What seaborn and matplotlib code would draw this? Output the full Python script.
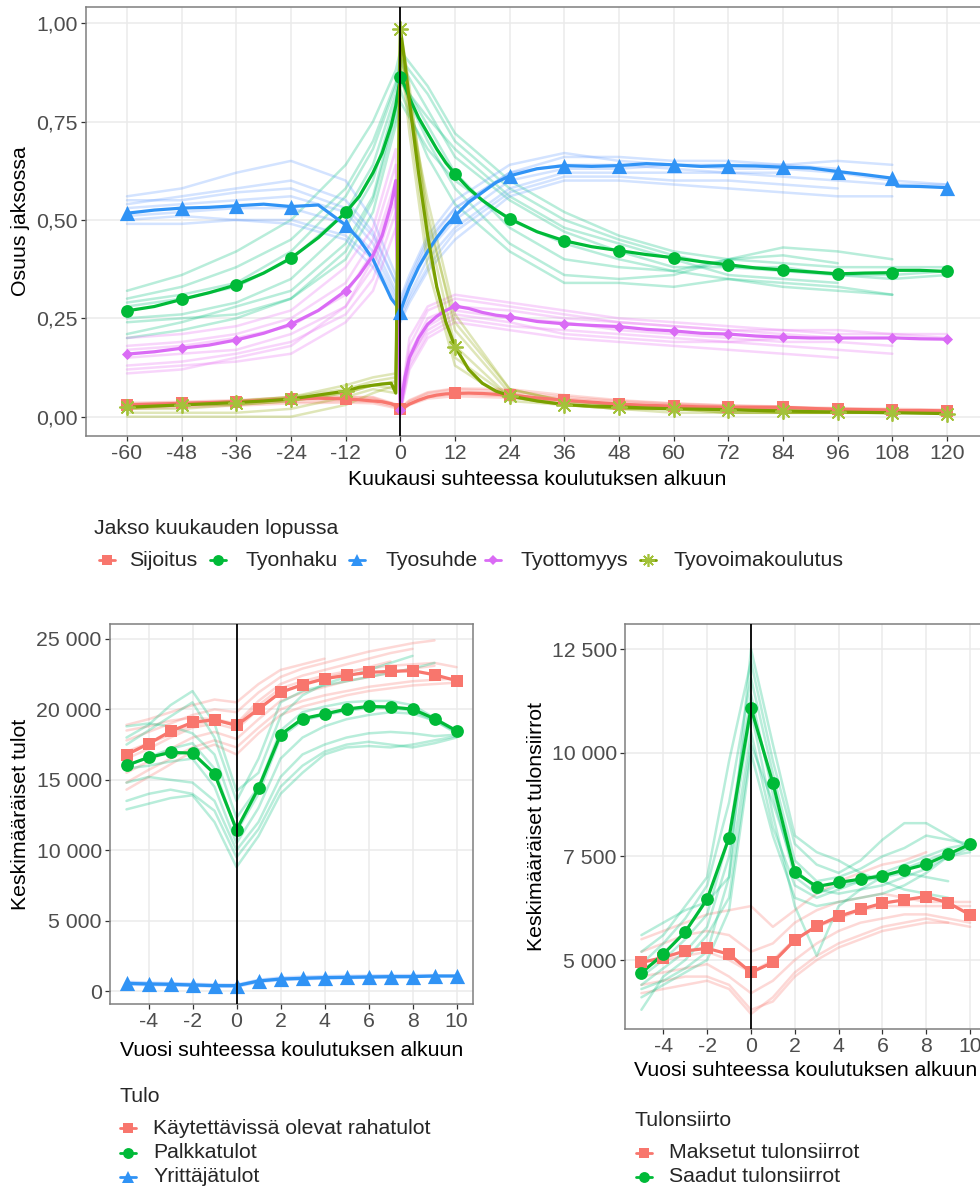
import matplotlib
matplotlib.use("Agg")
import matplotlib.pyplot as plt
import seaborn as sns
import pandas as pd
from matplotlib.lines import Line2D
from matplotlib.ticker import FuncFormatter

## --- Top panel data (share in state, months relative to training start)
MONTHS = [-60, -54, -48, -42, -36, -30, -24, -18, -12, -9, -6, -4, -2, -1,
          0, 1, 2, 4, 6, 8, 10, 12, 15, 18, 21, 24, 30, 36, 42, 48, 54, 60,
          66, 72, 78, 84, 90, 96, 102, 108, 109, 114, 120]

SIJOITUS = [.030, .032, .034, .036, .038, .041, .045, .047, .045, .043, .040, .038, .033, .028,
            .019, .025, .032, .042, .050, .055, .058, .059, .060, .059, .057, .055,
            .048, .042, .037, .032, .029, .027, .025, .024, .024, .024, .021, .019, .018, .017,
            .016, .016, .015]
TYONHAKU = [.269, .280, .298, .315, .335, .365, .403, .455, .519, .560, .620, .670, .740, .790,
            .864, .840, .810, .760, .720, .680, .645, .617, .580, .550, .525, .503,
            .470, .447, .432, .422, .412, .404, .394, .386, .378, .373, .368, .363, .365, .366,
            .372, .372, .369]
TYOSUHDE = [.517, .525, .530, .532, .536, .540, .534, .538, .487, .450, .400, .350, .300, .285,
            .267, .300, .330, .380, .420, .455, .485, .510, .545, .570, .595, .612,
            .630, .638, .636, .638, .643, .640, .636, .638, .637, .634, .632, .623, .615, .606,
            .586, .585, .582]
TYOTTOMYYS = [.159, .165, .174, .182, .195, .212, .235, .270, .320, .360, .410, .460, .540, .600,
              .017, .100, .150, .200, .235, .255, .270, .281, .275, .265, .258, .254,
              .242, .236, .232, .229, .222, .218, .212, .210, .205, .202, .200, .200, .200, .200,
              .200, .198, .197]
TYOVOIMAKOULUTUS = [.024, .027, .030, .033, .036, .040, .045, .055, .065, .075, .080, .083, .085, .060,
                    .985, .900, .800, .620, .460, .330, .240, .178, .120, .085, .065, .053,
                    .040, .031, .027, .025, .022, .020, .019, .018, .016, .015, .013, .012, .011, .010,
                    .010, .009, .008]

# faint lines (sub-groups), coarser month grid
MONTHS_FAINT = [-60, -48, -36, -24, -12, -6, -1, 0, 2, 6, 12, 24, 36, 48, 60, 72, 84, 96, 108, 120]

SIJOITUS_FAINT = [
    [.035, .038, .042, .050, .050, .048, .030, .020, .040, .060, .070, .065, .050, .040, .033, .028, .025, .022, .020, .018],
    [.030, .033, .037, .044, .046, .044, .028, .018, .037, .055, .064, .060, .046, .036, .030, .026, .024, .020, .018, None],
    [.025, .028, .032, .038, .040, .038, .025, .015, .032, .050, .058, .052, .040, .031, .026, .023, .021, .018, None, None],
    [.020, .024, .028, .034, .036, .034, .022, .014, .030, .046, .052, .048, .036, .028, .024, .022, .020, .017, .015, None],
    [.033, .036, .040, .047, .050, .050, .032, .022, .042, .062, .072, .070, .055, .042, .034, .029, .026, None, None, None],
]
TYONHAKU_FAINT = [
    [.32, .36, .42, .50, .64, .75, .88, .93, .90, .84, .72, .60, .52, .46, .42, .40, .39, .38, .38, .38],
    [.30, .33, .38, .45, .58, .70, .85, .90, .86, .78, .66, .55, .47, .42, .38, .38, .38, .36, .36, .37],
    [.28, .30, .33, .40, .52, .64, .82, .88, .82, .74, .62, .48, .40, .38, .37, .40, .43, .42, .40, None],
    [.25, .26, .29, .35, .48, .60, .80, .86, .80, .70, .58, .44, .36, .35, .36, .40, .41, .39, None, None],
    [.24, .25, .26, .30, .42, .55, .76, .83, .77, .66, .54, .42, .34, .34, .33, .35, .34, .33, .31, None],
    [.21, .24, .28, .32, .44, .56, .78, .85, .82, .76, .68, .56, .48, .44, .40, .36, .35, .34, None, None],
    [.20, .22, .25, .30, .40, .52, .74, .80, .76, .68, .60, .50, .44, .40, .37, .35, .33, .32, .31, None],
    [.29, .31, .34, .42, .56, .68, .84, .91, .88, .82, .70, .58, .50, .45, .41, .38, .37, .36, .35, .36],
]
TYOSUHDE_FAINT = [
    [.56, .58, .62, .65, .60, .50, .36, .30, .36, .46, .55, .64, .67, .65, .64, .64, .64, .65, .64, None],
    [.54, .56, .58, .60, .55, .47, .34, .28, .34, .44, .53, .62, .66, .66, .65, .65, .64, .63, None, None],
    [.53, .54, .55, .56, .52, .44, .32, .27, .33, .42, .50, .60, .63, .63, .64, .63, .63, .62, .60, .59],
    [.51, .52, .53, .53, .49, .42, .31, .26, .31, .40, .48, .58, .62, .62, .62, .62, .61, .60, .59, .59],
    [.50, .51, .50, .50, .46, .40, .30, .25, .30, .38, .47, .57, .61, .61, .60, .60, .59, .58, None, None],
    [.49, .49, .50, .49, .45, .38, .29, .24, .29, .37, .45, .56, .60, .60, .59, .58, .57, .56, .56, None],
    [.55, .55, .57, .58, .53, .46, .34, .29, .35, .45, .53, .62, .64, .64, .63, .62, .62, None, None, None],
]
TYOTTOMYYS_FAINT = [
    [.20, .21, .23, .27, .38, .48, .68, .03, .20, .28, .31, .29, .27, .25, .24, .23, .22, .22, .21, .21],
    [.18, .19, .21, .25, .34, .45, .64, .02, .18, .27, .30, .28, .26, .24, .23, .22, .22, .21, .21, .20],
    [.17, .18, .20, .23, .31, .42, .60, .02, .16, .25, .28, .27, .25, .24, .23, .22, .21, .20, None, None],
    [.15, .16, .17, .21, .28, .38, .55, .02, .14, .23, .27, .25, .24, .22, .21, .20, .19, .19, .18, None],
    [.13, .14, .16, .19, .26, .35, .52, .01, .13, .21, .25, .23, .22, .21, .20, .19, .18, .17, .16, None],
    [.12, .13, .14, .16, .24, .32, .48, .01, .12, .20, .24, .22, .20, .19, .18, .17, .16, .15, None, None],
    [.11, .12, .15, .18, .28, .40, .58, .02, .15, .22, .26, .24, .21, .20, .19, .19, .20, None, None, None],
]
TYOVOIMAKOULUTUS_FAINT = [
    [.00, .00, .00, .00, .03, .06, .08, .96, .80, .50, .24, .07, .04, .03, .02, .02, .01, .01, .01, None],
    [.02, .02, .03, .04, .06, .08, .09, .98, .82, .52, .22, .06, .03, .02, .02, .02, .01, .01, .01, .01],
    [.03, .03, .04, .05, .07, .09, .10, .99, .84, .48, .18, .05, .03, .02, .02, .01, .01, .01, None, None],
    [.02, .03, .03, .04, .06, .08, .07, .95, .76, .42, .15, .05, .03, .02, .02, .01, .01, .01, .01, .01],
    [.01, .01, .01, .02, .05, .07, .06, .93, .72, .38, .13, .04, .03, .02, .01, .01, .01, .01, .01, None],
    [.03, .03, .04, .05, .08, .10, .11, .97, .78, .55, .26, .07, .04, .03, .02, .02, .02, None, None, None],
]

## --- Bottom panels data (years relative to training start)
YEARS = [-5, -4, -3, -2, -1, 0, 1, 2, 3, 4, 5, 6, 7, 8, 9, 10]

KAYTETTAVISSA = [16780, 17560, 18440, 19080, 19270, 18860, 20020, 21210, 21750, 22180, 22420, 22630, 22700, 22750, 22460, 22040]
PALKKATULOT = [16020, 16590, 16940, 16900, 15430, 11450, 14410, 18200, 19340, 19670, 20020, 20210, 20170, 20020, 19340, 18480]
YRITTAJATULOT = [545, 500, 475, 430, 380, 380, 710, 850, 900, 950, 970, 995, 1020, 1020, 1065, 1065]

KAYTETTAVISSA_FAINT = [
    [18900, 19300, 19800, 20300, 20700, 20500, 21800, 22800, 23200, 23600, None, None, None, None, None, None],
    [17800, 18400, 19000, 19600, 20000, 19800, 21200, 22300, 22900, 23300, 23700, 24100, 24400, 24700, 24900, None],
    [18500, 18800, 19200, 19400, 19300, 19000, 20600, 21800, 22400, 22800, 23200, 23600, 24000, 24300, None, None],
    [16500, 17200, 18000, 18700, 19000, 18600, 20000, 21200, 21800, 22200, 22600, 23000, 23400, None, None, None],
    [15500, 16300, 17200, 18000, 18400, 17900, 19300, 20600, 21200, 21600, 22000, 22300, 22600, 22900, 23100, None],
    [14800, 15700, 16500, 17300, 17800, 17300, 18700, 20000, 20600, 21000, 21300, 21600, 21800, 22000, 22100, 22200],
    [14300, 15200, 16100, 17000, 17500, 16800, 18300, 19600, 20200, 20600, 21000, 21300, 21500, 21700, 21800, 21900],
    [17000, 17600, 18200, 18900, 19200, 18900, 20300, 21500, 22000, 22400, 22700, 22900, 23100, 23200, 23300, 23000],
]
PALKKATULOT_FAINT = [
    [18000, 18900, 20300, 21300, 19000, 14200, 15500, 19500, 21000, 21800, 22300, 22800, 23300, 23800, None, None],
    [17500, 18500, 19500, 20500, 18000, 13500, 16500, 20500, 21300, 21700, 22000, 22300, 22600, 22900, 23300, None],
    [18800, 19000, 18800, 18300, 16800, 12300, 14500, 18500, 19800, 20200, 20500, 20600, 20600, 20300, 19400, 18500],
    [16000, 16600, 17200, 17600, 15800, 11300, 14000, 18000, 19200, 19600, 19900, 20100, 20100, 19900, 19200, 18400],
    [15800, 16000, 16300, 16500, 14500, 10500, 13000, 16500, 18000, 18800, 19300, 19600, 19800, 19700, 19200, 18300],
    [14800, 15200, 15000, 14800, 13500, 10000, 12000, 15200, 16800, 17500, 18000, 18300, 18400, 18300, 18100, 18200],
    [13500, 14000, 14300, 14000, 12800, 9500, 11500, 14500, 16000, 17000, 17500, 17700, 17500, 17300, 17600, 18000],
    [12900, 13300, 13700, 13900, 12000, 8800, 11000, 14000, 15500, 16800, 17300, 17400, 17300, 17500, 17800, 18100],
]
YRITTAJATULOT_FAINT = [
    [600, 550, 520, 480, 420, 400, 750, 900, 950, 1000, 1020, 1050, 1070, 1080, 1100, 1100],
    [500, 450, 430, 380, 340, 330, 680, 820, 870, 920, 950, 980, 1000, 1010, 1040, 1050],
    [650, 600, 560, 520, 470, 450, 800, 960, 1020, 1060, 1080, 1100, 1120, 1130, 1130, None],
    [450, 420, 400, 360, 320, 300, 620, 780, 830, 880, 910, 940, 960, 980, None, None],
]

MAKSETUT = [4940, 5060, 5220, 5280, 5140, 4700, 4940, 5480, 5820, 6050, 6220, 6370, 6450, 6530, 6380, 6090]
SAADUT = [4690, 5140, 5680, 6470, 7950, 11080, 9270, 7120, 6770, 6870, 6950, 7030, 7170, 7310, 7550, 7790]

MAKSETUT_FAINT = [
    [5500, 5700, 5900, 6100, 6200, 6300, 5800, 6200, 6600, 6900, 7100, 7300, 7400, 7600, None, None],
    [5200, 5400, 5600, 5700, 5600, 5200, 5400, 5900, 6200, 6400, 6500, 6600, 6500, 6400, 6400, 6400],
    [4800, 5000, 5100, 5200, 5000, 4700, 5000, 5500, 5800, 6000, 6200, 6300, 6300, 6300, 6300, 6300],
    [4600, 4700, 4800, 4900, 4600, 4200, 4500, 5000, 5400, 5700, 5900, 6000, 6100, 6100, 6000, 5900],
    [4400, 4500, 4600, 4600, 4400, 3800, 4000, 4600, 5000, 5300, 5500, 5700, 5800, 5900, 5900, 5800],
    [4200, 4300, 4400, 4500, 4300, 3700, 4100, 4700, 5100, 5400, 5600, 5800, 5900, 6000, 5900, None],
]
SAADUT_FAINT = [
    [5600, 5900, 6200, 6400, 7000, 12500, 10200, 8000, 7600, 7400, 7100, 6900, 6700, 6600, 6500, None],
    [5200, 5600, 6300, 7000, 9800, 12200, 9800, 7800, 7300, 7100, 7400, 7900, 8300, 8300, 8000, 7700],
    [4900, 5400, 6000, 6800, 8800, 11800, 9500, 7400, 6900, 7000, 7200, 7500, 7700, 8000, 7900, 7800],
    [4600, 5000, 5500, 6100, 8000, 11400, 9000, 7000, 6600, 6800, 6900, 7100, 7300, 7500, 7700, 7800],
    [4400, 4800, 5200, 5800, 7500, 11000, 8500, 6300, 5100, 6300, 6700, 7000, 7200, 7400, 7600, None],
    [4300, 4500, 4800, 5200, 7000, 10500, 8200, 6800, 6500, 6700, 6900, 7000, 7100, 7000, 6900, None],
    [3800, 4600, 5000, 5600, 6500, 10200, 8800, 7200, 6700, 6600, 6700, 6800, 7000, 7200, 7500, 7700],
    [4100, 4400, 4700, 5000, 6200, 10000, 8000, 6500, 6300, 6400, 6500, 6600, 6800, 7100, 7500, 7600],
]

## --- colours and markers
RED, GREEN, BLUE, PINK, OLIVE = '#F8766D', '#00BA38', '#3093F5', '#DA6BF5', '#7AA000'
STAR = '#A3C23A'
FAINT = {RED: '#F8766D', GREEN: '#00BF7D', BLUE: '#619CFF', PINK: '#E76BF3', OLIVE: '#8FA800'}
ASTERISK = (8, 2, 0)
MSIZE = {'s': 85, 'o': 85, '^': 120, 'D': 32, ASTERISK: 120}

FS = 15.3
W, H = 980, 1189


def main_df(x, series):
    return pd.concat([pd.DataFrame({'x': x, 'y': v, 'grp': k}) for k, v in series.items()],
                     ignore_index=True)


def faint_df(x, series):
    parts = []
    for k, lines in series.items():
        for i, v in enumerate(lines):
            parts.append(pd.DataFrame({'x': x, 'y': v, 'grp': k, 'line': f'{k}_{i}'}))
    return pd.concat(parts, ignore_index=True).dropna(subset=['y'])


def draw_panel(ax, x, main, x_faint, faint, styles, marker_x):
    # styles: name -> (colour, marker, marker colour)
    fdf = faint_df(x_faint, faint)
    sns.lineplot(data=fdf, x='x', y='y', hue='grp', units='line', estimator=None,
                 palette={k: FAINT[styles[k][0]] for k in faint}, alpha=0.28,
                 linewidth=1.8, legend=False, ax=ax, zorder=2)
    mdf = main_df(x, main)
    sns.lineplot(data=mdf, x='x', y='y', hue='grp', estimator=None,
                 palette={k: styles[k][0] for k in main}, linewidth=2.3,
                 legend=False, ax=ax, zorder=3)
    pts = mdf[mdf['x'].isin(marker_x)]
    for k in main:
        col, mk, mcol = styles[k]
        sub = pts[pts['grp'] == k]
        lw = 1.3 if mk == ASTERISK else 0
        sns.scatterplot(data=sub, x='x', y='y', color=mcol, marker=mk, s=MSIZE[mk],
                        linewidth=lw, ax=ax, zorder=4, legend=False)
    ax.axvline(0, color='black', lw=1.3, zorder=5)


def style_axes(ax, xlim, ylim, xticks, yticks, yfmt, xlabel, ylabel, xpad, ypad):
    ax.set_xlim(*xlim)
    ax.set_ylim(*ylim)
    ax.set_xticks(xticks)
    ax.set_yticks(yticks)
    ax.xaxis.set_major_formatter(FuncFormatter(lambda v, p: f"{v:g}"))
    ax.yaxis.set_major_formatter(FuncFormatter(yfmt))
    ax.grid(True, color='#EBEBEB', lw=1.1)
    ax.set_axisbelow(True)
    for s in ax.spines.values():
        s.set_visible(True)
        s.set_color('#7F7F7F')
        s.set_linewidth(1.1)
    ax.tick_params(length=3.5, width=0.9, color='#333333', labelcolor='#4D4D4D',
                   labelsize=FS, pad=2.5, bottom=True, left=True)
    ax.set_xlabel(xlabel, fontsize=FS, color='black', labelpad=xpad)
    ax.set_ylabel(ylabel, fontsize=FS, color='black', labelpad=ypad)


def draw_legend(fig, title, title_xy, key_x, text_x, ys, labels, styles):
    fig.text(title_xy[0] / W, 1 - title_xy[1] / H, title, fontsize=FS, va='center', ha='left')
    for kx, tx, y, lab in zip(key_x, text_x, ys, labels):
        col, mk, mcol = styles[lab]
        yy = 1 - y / H
        fig.add_artist(Line2D([(kx - 8) / W, (kx + 8) / W], [yy, yy], transform=fig.transFigure,
                              color=col, lw=2.0))
        ms = 0.85 * MSIZE[mk] ** 0.5
        fig.add_artist(Line2D([kx / W], [yy], transform=fig.transFigure, linestyle='none',
                              marker=mk, markersize=ms, color=mcol, markeredgewidth=1.2 if mk == ASTERISK else 0))
        fig.text(tx / W, yy, lab, fontsize=FS, va='center', ha='left')


sns.set_theme(style="whitegrid")
plt.rcParams['font.family'] = ['Liberation Sans', 'DejaVu Sans']

fig = plt.figure(figsize=(W / 100, H / 100), dpi=100)
ax_top = fig.add_axes([86 / W, 1 - 436 / H, (988 - 86) / W, (436 - 7) / H])
ax_bl = fig.add_axes([110 / W, 1 - 1004 / H, (473 - 110) / W, (1004 - 624) / H])
ax_br = fig.add_axes([625 / W, 1 - 1029 / H, (986.5 - 625) / W, (1029 - 624) / H])

## ----- top panel
top_styles = {
    'Sijoitus': (RED, 's', RED),
    'Tyonhaku': (GREEN, 'o', GREEN),
    'Tyosuhde': (BLUE, '^', BLUE),
    'Tyottomyys': (PINK, 'D', PINK),
    'Tyovoimakoulutus': (OLIVE, ASTERISK, STAR),
}
draw_panel(ax_top, MONTHS,
           {'Sijoitus': SIJOITUS, 'Tyonhaku': TYONHAKU, 'Tyosuhde': TYOSUHDE,
            'Tyottomyys': TYOTTOMYYS, 'Tyovoimakoulutus': TYOVOIMAKOULUTUS},
           MONTHS_FAINT,
           {'Sijoitus': SIJOITUS_FAINT, 'Tyonhaku': TYONHAKU_FAINT, 'Tyosuhde': TYOSUHDE_FAINT,
            'Tyottomyys': TYOTTOMYYS_FAINT, 'Tyovoimakoulutus': TYOVOIMAKOULUTUS_FAINT},
           top_styles, list(range(-60, 121, 12)))
style_axes(ax_top, (-69, 129), (-0.049, 1.041), list(range(-60, 121, 12)), [0, .25, .5, .75, 1],
           lambda v, p: f"{v:.2f}".replace('.', ','),
           "Kuukausi suhteessa koulutuksen alkuun", "Osuus jaksossa", 4.5, 4.5)

## ----- bottom left panel
bl_styles = {
    'Käytettävissä olevat rahatulot': (RED, 's', RED),
    'Palkkatulot': (GREEN, 'o', GREEN),
    'Yrittäjätulot': (BLUE, '^', BLUE),
}
draw_panel(ax_bl, YEARS,
           {'Käytettävissä olevat rahatulot': KAYTETTAVISSA, 'Palkkatulot': PALKKATULOT,
            'Yrittäjätulot': YRITTAJATULOT},
           YEARS,
           {'Käytettävissä olevat rahatulot': KAYTETTAVISSA_FAINT, 'Palkkatulot': PALKKATULOT_FAINT,
            'Yrittäjätulot': YRITTAJATULOT_FAINT},
           bl_styles, YEARS)
thousands = lambda v, p: f"{int(round(v)):,}".replace(',', ' ')
style_axes(ax_bl, (-5.75, 10.75), (-923, 26065), list(range(-4, 11, 2)),
           [0, 5000, 10000, 15000, 20000, 25000], thousands,
           "Vuosi suhteessa koulutuksen alkuun", "Keskimääräiset tulot", 7, 4.5)

## ----- bottom right panel
br_styles = {
    'Maksetut tulonsiirrot': (RED, 's', RED),
    'Saadut tulonsiirrot': (GREEN, 'o', GREEN),
}
draw_panel(ax_br, YEARS,
           {'Maksetut tulonsiirrot': MAKSETUT, 'Saadut tulonsiirrot': SAADUT},
           YEARS,
           {'Maksetut tulonsiirrot': MAKSETUT_FAINT, 'Saadut tulonsiirrot': SAADUT_FAINT},
           br_styles, YEARS)
style_axes(ax_br, (-5.75, 10.75), (3336, 13103), list(range(-4, 11, 2)),
           [5000, 7500, 10000, 12500], thousands,
           "Vuosi suhteessa koulutuksen alkuun", "Keskimääräiset tulonsiirrot", 3.5, 4)

## ----- legends
draw_legend(fig, "Jakso kuukauden lopussa", (94, 528),
            [107, 218, 357, 493, 648], [129, 245, 385, 520, 673], [560] * 5,
            list(top_styles), top_styles)
draw_legend(fig, "Tulo", (119, 1097), [128] * 3, [153] * 3, [1128, 1153, 1177],
            list(bl_styles), bl_styles)
draw_legend(fig, "Tulonsiirto", (634, 1120), [644] * 2, [669] * 2, [1153, 1177],
            list(br_styles), br_styles)

fig.savefig("out.png", dpi=100)
